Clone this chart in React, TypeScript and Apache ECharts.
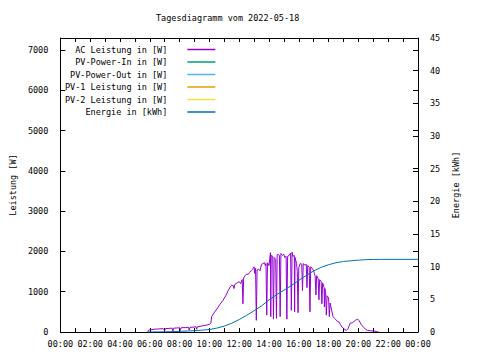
import React, { useEffect, useRef } from "react";
import * as echarts from "echarts";

const FONT = "DejaVu Sans Mono";

const titleText = "Tagesdiagramm vom 2022-05-18";
const seriesNames = [
  "AC Leistung in [W]",
  "PV-Power-In in [W]",
  "PV-Power-Out in [W]",
  "PV-1 Leistung in [W]",
  "PV-2 Leistung in [W]",
  "Energie in [kWh]",
];
const seriesColors = ["#9400d3", "#009e73", "#56b4e9", "#e69f00", "#f0e442", "#0072b2"];

// AC power: [hour of day, watts]
const acPower: [number, number][] = [
  [5.87, 0], [5.9, 40], [6.0, 50], [6.3, 70], [6.6, 75], [6.9, 85], [7.0, 30], [7.05, 85],
  [7.3, 90], [7.5, 95], [7.55, 20], [7.6, 95], [7.8, 100], [8.0, 105], [8.05, 40], [8.1, 105],
  [8.4, 110], [8.6, 115], [8.65, 50], [8.7, 115], [8.9, 120], [9.1, 130], [9.15, 70], [9.2, 130],
  [9.5, 150], [9.8, 170], [10.0, 190], [10.1, 220], [10.15, 380], [10.3, 470], [10.5, 570],
  [10.7, 680], [10.9, 780], [11.1, 900], [11.25, 1020], [11.4, 1120], [11.5, 1160], [11.6, 1150],
  [11.65, 1080], [11.7, 1180], [11.9, 1230], [12.0, 1250], [12.1, 1200], [12.2, 1300], [12.25, 700],
  [12.3, 1340], [12.4, 1400], [12.5, 1440], [12.6, 1430], [12.7, 1480], [12.8, 1520], [12.9, 1560],
  [13.0, 1620], [13.05, 1450], [13.1, 1580], [13.15, 290], [13.2, 1540], [13.3, 1560], [13.4, 1520],
  [13.5, 1680], [13.6, 1700], [13.7, 1720], [13.75, 1650], [13.8, 1700], [13.85, 420], [13.9, 1720],
  [14.0, 1650], [14.1, 1970], [14.12, 380], [14.15, 1900], [14.25, 1880], [14.3, 320], [14.35, 1850],
  [14.45, 1800], [14.5, 340], [14.55, 1920], [14.6, 1930], [14.7, 1900], [14.75, 380], [14.8, 1950],
  [14.9, 1900], [15.0, 1930], [15.05, 1850], [15.15, 1880], [15.2, 320], [15.25, 1880], [15.35, 1900],
  [15.45, 1960], [15.5, 540], [15.55, 1980], [15.6, 1880], [15.7, 1900], [15.72, 500], [15.75, 1850],
  [15.85, 1700], [15.9, 1500], [15.95, 480], [16.0, 1600], [16.1, 1700], [16.2, 1680], [16.25, 1030],
  [16.3, 1700], [16.4, 1660], [16.5, 1680], [16.55, 1100], [16.6, 1650], [16.7, 1600], [16.75, 500],
  [16.8, 1620], [16.9, 1580], [17.0, 1520], [17.05, 1450], [17.1, 1380], [17.15, 920], [17.2, 1400],
  [17.3, 1320], [17.35, 800], [17.4, 1300], [17.5, 1260], [17.55, 700], [17.6, 1220], [17.7, 1100],
  [17.72, 620], [17.75, 1080], [17.8, 980], [17.85, 420], [17.9, 900], [18.0, 850], [18.05, 380],
  [18.1, 720], [18.2, 550], [18.3, 380], [18.4, 340], [18.5, 300], [18.6, 260], [18.7, 250],
  [18.8, 180], [18.9, 120], [19.0, 90], [19.1, 60], [19.2, 40], [19.3, 80], [19.45, 220], [19.6, 230],
  [19.8, 290], [19.95, 320], [20.05, 280], [20.2, 180], [20.35, 120], [20.5, 60], [20.6, 40],
  [20.8, 30], [21.0, 25], [21.2, 15], [21.35, 0],
];

// Energy: hours and cumulative kWh
const energyHours = [5.9, 7, 8, 9, 9.5, 10, 10.5, 11, 11.5, 12, 12.5, 13, 13.5, 14, 14.5, 15, 15.5, 16, 16.5, 17, 17.5, 18, 18.5, 19, 19.5, 20, 20.5, 21, 21.5, 24];
const energyKwh = [0, 0.02, 0.1, 0.2, 0.28, 0.38, 0.6, 0.9, 1.35, 1.9, 2.55, 3.25, 4.0, 4.9, 5.7, 6.4, 7.1, 7.9, 8.65, 9.35, 9.9, 10.3, 10.6, 10.8, 10.9, 11.0, 11.07, 11.1, 11.12, 11.12];

const pvIn: [number, number][] = [];
const pvOut: [number, number][] = [];
const pv1: [number, number][] = [];
const pv2: [number, number][] = [];

const hourFmt = (v: number) => String(Math.round(v) % 24).padStart(2, "0") + ":00";
const numFmt = (v: number) => String(v);

export default function App() {
  const ref = useRef<HTMLDivElement>(null);
  useEffect(() => {
    if (!ref.current) return;
    const chart = echarts.init(ref.current, undefined, { renderer: "svg" });
    const txt = { fontFamily: FONT, fontSize: 8.5, color: "#000" };
    const line = { lineStyle: { color: "#000", width: 1 } };
    const tick = (len: number) => ({ show: true, inside: false, length: -len, ...line });
    const energyData = energyHours.map((h, i) => [h, energyKwh[i]]);
    const mk = (name: string, color: string, data: any, yAxisIndex = 0) => ({
      name,
      type: "line",
      data,
      yAxisIndex,
      symbol: "none",
      showSymbol: false,
      color,
      itemStyle: { color },
      lineStyle: { color, width: 1 },
    });
    chart.setOption({
      animation: false,
      backgroundColor: "#fff",
      title: {
        text: titleText,
        left: 151,
        top: 8,
        textStyle: { ...txt, fontWeight: "normal" },
      },
      legend: {
        orient: "vertical",
        left: 60,
        top: 40,
        align: "right",
        itemGap: 3.5,
        itemWidth: 28,
        itemHeight: 1.5,
        icon: "rect",
        data: seriesNames.map((n, i) => ({
          name: n,
          icon: "rect",
          itemStyle: { color: seriesColors[i] },
        })),
        formatter: (n: string) => `{a|${n}}`,
        textStyle: {
          ...txt,
          rich: {
            a: { ...txt, width: 104, align: "right", padding: [0, 15, 0, 0] },
          },
        },
      },
      grid: { left: 58, right: 62, top: 38, bottom: 28, containLabel: false },
      xAxis: [
        {
          type: "value",
          min: 0,
          max: 24,
          interval: 2,
          position: "bottom",
          axisLine: { show: true, onZero: false, ...line },
          axisTick: tick(4),
          minorTick: { show: true, splitNumber: 2, length: -4, ...line },
          axisLabel: { ...txt, margin: 7, formatter: hourFmt, showMinLabel: true, showMaxLabel: true },
          splitLine: { show: false },
        },
        {
          type: "value",
          min: 0,
          max: 24,
          interval: 2,
          position: "top",
          axisLine: { show: true, onZero: false, ...line },
          axisTick: tick(4),
          minorTick: { show: true, splitNumber: 2, length: -4, ...line },
          axisLabel: { show: false },
          splitLine: { show: false },
        },
      ],
      yAxis: [
        {
          type: "value",
          min: 0,
          max: 7300,
          interval: 1000,
          position: "left",
          name: "Leistung [W]",
          nameLocation: "middle",
          nameRotate: 90,
          nameGap: 40,
          nameTextStyle: txt,
          axisLine: { show: true, onZero: false, ...line },
          axisTick: tick(5),
          axisLabel: { ...txt, margin: 12, showMaxLabel: false, formatter: numFmt },
          splitLine: { show: false },
        },
        {
          type: "value",
          min: 0,
          max: 45,
          interval: 5,
          position: "right",
          name: "Energie [kWh]",
          nameLocation: "middle",
          nameRotate: 90,
          nameGap: 25,
          nameTextStyle: txt,
          axisLine: { show: true, onZero: false, ...line },
          axisTick: tick(5),
          axisLabel: { ...txt, margin: 12, formatter: numFmt },
          splitLine: { show: false },
        },
        {
          type: "value",
          min: 0,
          max: 7300,
          interval: 1000,
          position: "right",
          axisLine: { show: false, onZero: false },
          axisTick: tick(5),
          axisLabel: { show: false },
          splitLine: { show: false },
        },
      ],
      series: [
        mk(seriesNames[0], seriesColors[0], acPower),
        mk(seriesNames[1], seriesColors[1], pvIn),
        mk(seriesNames[2], seriesColors[2], pvOut),
        mk(seriesNames[3], seriesColors[3], pv1),
        mk(seriesNames[4], seriesColors[4], pv2),
        mk(seriesNames[5], seriesColors[5], energyData, 1),
      ],
    });
    return () => chart.dispose();
  }, []);
  return (
    <div
      ref={ref}
      style={{ position: "absolute", left: 0, top: 0, width: 480, height: 360, background: "#fff" }}
    />
  );
}
